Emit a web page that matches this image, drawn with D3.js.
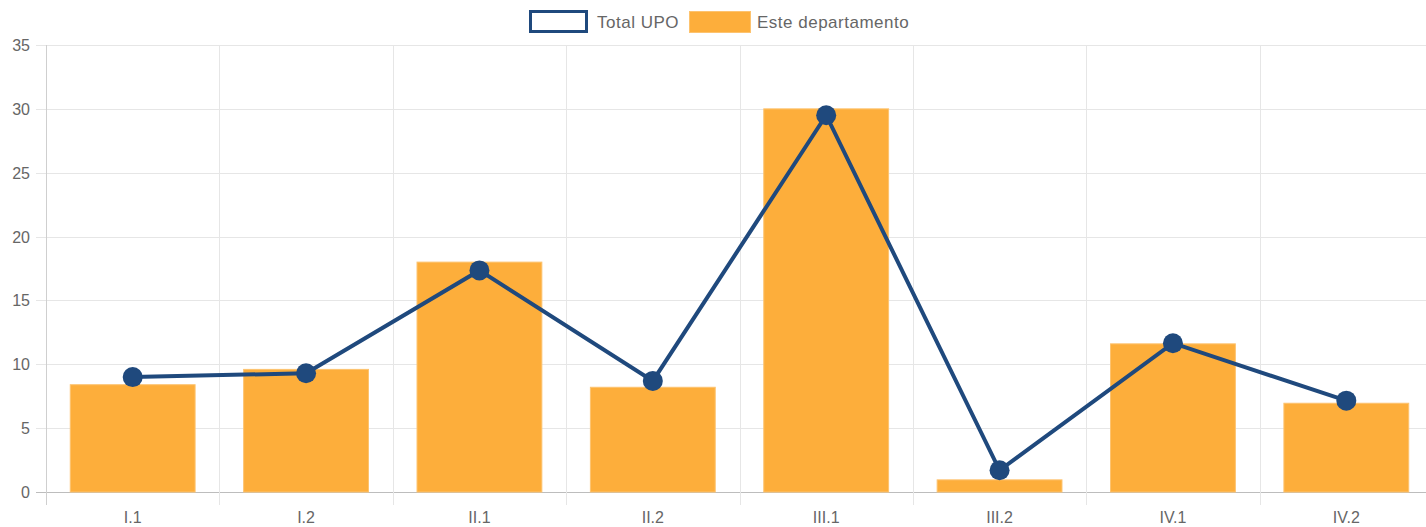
<!DOCTYPE html>
<html>
<head>
<meta charset="utf-8" />
<title></title>
<style>
  body { margin: 0; background: #fff; }
  #chart { width: 1426px; height: 527px; overflow: hidden; }
  text { font-family: "Liberation Sans", Arial, sans-serif; fill: #666; }
</style>
</head>
<body>
<div id="chart"></div>
<script src="https://cdn.jsdelivr.net/npm/d3@7"></script>
<script>
var categories = ["I.1", "I.2", "II.1", "II.2", "III.1", "III.2", "IV.1", "IV.2"];
var totalUpo = [9.0, 9.3, 17.35, 8.7, 29.5, 1.7, 11.65, 7.15];
var departamento = [8.4, 9.6, 18.0, 8.2, 30.0, 0.95, 11.6, 6.95];
var yTicks = [0, 5, 10, 15, 20, 25, 30, 35];

var width = 1426, height = 527;
var plotLeft = 46, plotRight = 1433, plotTop = 45, plotBottom = 492;

var svg = d3.select("#chart").append("svg")
    .attr("width", width)
    .attr("height", height);

var x = d3.scaleBand().domain(categories).range([plotLeft, plotRight]);
var y = d3.scaleLinear().domain([0, 35]).range([plotBottom, plotTop]);

// horizontal grid + y ticks
svg.append("g")
    .selectAll("line")
    .data(yTicks)
    .join("line")
    .attr("x1", plotLeft - 10)
    .attr("x2", plotRight)
    .attr("y1", d => Math.round(y(d)) + 0.5)
    .attr("y2", d => Math.round(y(d)) + 0.5)
    .attr("stroke", d => d === 0 ? "#bdbdbd" : "#e6e6e6")
    .attr("stroke-width", 1);

// vertical grid + x ticks
var xLines = categories.map(c => x(c));
svg.append("g")
    .selectAll("line")
    .data(xLines)
    .join("line")
    .attr("x1", d => Math.round(d) + 0.5)
    .attr("x2", d => Math.round(d) + 0.5)
    .attr("y1", plotTop)
    .attr("y2", plotBottom + 13)
    .attr("stroke", (d, i) => i === 0 ? "#cfcfcf" : "#e6e6e6");

svg.append("g")
    .attr("font-size", 16)
    .attr("text-anchor", "end")
    .selectAll("text")
    .data(yTicks)
    .join("text")
    .attr("x", 30)
    .attr("y", d => y(d) + 6)
    .text(d => d);

svg.append("g")
    .attr("font-size", 16)
    .attr("text-anchor", "middle")
    .selectAll("text")
    .data(categories)
    .join("text")
    .attr("x", d => x(d) + x.bandwidth() / 2)
    .attr("y", 523)
    .text(d => d);

// bars
var barW = x.bandwidth() * 0.72;
svg.append("g")
    .selectAll("rect")
    .data(departamento)
    .join("rect")
    .attr("x", (d, i) => x(categories[i]) + (x.bandwidth() - barW) / 2)
    .attr("y", d => y(d))
    .attr("width", barW)
    .attr("height", d => y(0) - y(d))
    .attr("fill", "#fdae3b")
    .attr("stroke", "#fdc36f")
    .attr("stroke-width", 1);

// line
var line = d3.line()
    .x((d, i) => x(categories[i]) + x.bandwidth() / 2)
    .y(d => y(d));

svg.append("path")
    .datum(totalUpo)
    .attr("d", line)
    .attr("fill", "none")
    .attr("stroke", "#1f497d")
    .attr("stroke-width", 4);

svg.append("g")
    .selectAll("circle")
    .data(totalUpo)
    .join("circle")
    .attr("cx", (d, i) => x(categories[i]) + x.bandwidth() / 2)
    .attr("cy", d => y(d))
    .attr("r", 10)
    .attr("fill", "#1f497d");

// legend
var legend = svg.append("g").attr("font-size", 17).attr("letter-spacing", 0.5);
legend.append("rect")
    .attr("x", 530.5).attr("y", 11.5)
    .attr("width", 56).attr("height", 20)
    .attr("fill", "#fff")
    .attr("stroke", "#1f497d")
    .attr("stroke-width", 3);
legend.append("text").attr("x", 597).attr("y", 28).text("Total UPO");
legend.append("rect")
    .attr("x", 689.5).attr("y", 11.5)
    .attr("width", 61).attr("height", 21)
    .attr("fill", "#fdae3b")
    .attr("stroke", "#fdc36f");
legend.append("text").attr("x", 757).attr("y", 28).text("Este departamento");
</script>
</body>
</html>
